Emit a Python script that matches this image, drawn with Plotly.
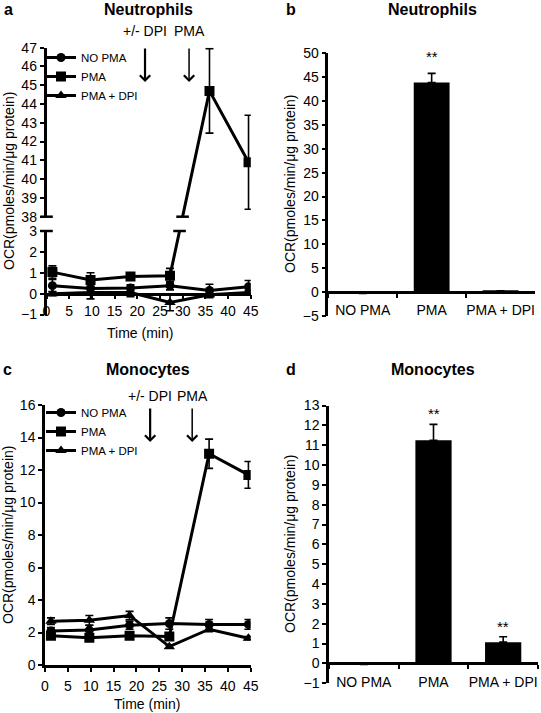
import plotly.graph_objects as go

# ---------------- data ----------------
time_min = [1.3, 9.7, 18.5, 27.2, 35.9, 44.5]
series_names = ["NO PMA", "PMA", "PMA + DPI"]

# Panel a (Neutrophils, kinetic)
neut_no_pma = [0.38, 0.25, 0.27, 0.38, 0.15, 0.33]
neut_no_pma_err = [0.3, 0.2, 0.15, 0.2, 0.3, 0.3]
neut_pma = [1.03, 0.65, 0.82, 0.86, 44.7, 40.9]
neut_pma_err = [0.3, 0.35, 0.15, 0.35, 2.25, 2.5]
neut_pma_dpi = [0.0, 0.05, 0.05, -0.42, -0.05, 0.05]
neut_pma_dpi_err = [0.1, 0.3, 0.2, 0.4, 0.15, 0.1]

# Panel c (Monocytes, kinetic)
mono_no_pma = [2.1, 2.15, 2.45, 2.55, 2.5, 2.5]
mono_no_pma_err = [0.2, 0.3, 0.25, 0.35, 0.3, 0.3]
mono_pma = [1.8, 1.68, 1.8, 1.75, 13.0, 11.7]
mono_pma_err = [0.2, 0.15, 0.15, 0.15, 0.9, 0.82]
mono_pma_dpi = [2.7, 2.75, 3.05, 1.13, 2.2, 1.65]
mono_pma_dpi_err = [0.2, 0.3, 0.25, 0.1, 0.15, 0.1]

# Bar panels
categories = ["NO PMA", "PMA", "PMA + DPI"]
neut_bar = [-0.3, 43.9, 0.3]
neut_bar_err = [None, 1.9, None]
neut_sig = ["", "**", ""]
mono_bar = [-0.06, 11.25, 1.07]
mono_bar_err = [None, 0.8, 0.27]
mono_sig = ["", "**", "**"]

# injections
inj_labels = ["+/- DPI", "PMA"]
inj_times_a = [21.7, 31.4]
inj_times_c = [23.0, 32.2]

# tick settings
x_ticks = list(range(0, 46, 5))

# ---------------- geometry ----------------
W, H = 541, 713
FONT = "Liberation Sans, Arial, sans-serif"


def xdom(p0, p1):
    return [p0 / W, p1 / W]


def ydom(pb, pt):
    return [1 - pb / H, 1 - pt / H]


def py(p):
    return 1 - p / H


A_X = xdom(46.5, 250.8)
A_LOW = ydom(314.5, 231)
A_UP = ydom(216.7, 47.7)
LOW_R = [-1, 3]
UP_R = [38, 47]
B_X = xdom(328.3, 535)
B_Y = ydom(316, 53.3)
C_X = xdom(45, 250.7)
C_Y = ydom(665, 405)
D_X = xdom(329, 538)
D_Y = ydom(683.2, 405.5)


def paper_of(v):
    if v > (LOW_R[1] + UP_R[0]) / 2:
        return A_UP[0] + (v - UP_R[0]) / (UP_R[1] - UP_R[0]) * (A_UP[1] - A_UP[0])
    return A_LOW[0] + (v - LOW_R[0]) / (LOW_R[1] - LOW_R[0]) * (A_LOW[1] - A_LOW[0])


def to_low(p):
    return LOW_R[0] + (p - A_LOW[0]) / (A_LOW[1] - A_LOW[0]) * (LOW_R[1] - LOW_R[0])


def to_up(p):
    return UP_R[0] + (p - A_UP[0]) / (A_UP[1] - A_UP[0]) * (UP_R[1] - UP_R[0])


def in_low(v):
    return LOW_R[0] <= v <= LOW_R[1]


def in_up(v):
    return UP_R[0] <= v <= UP_R[1]


symbols = ["circle", "square", "triangle-up"]
msizes = [9, 10, 10]
LW = 3
brk_marker = dict(symbol="line-ew-open", size=9, color="black", line=dict(width=2.5, color="black"))

fig = go.Figure()

# ---------------- panel a ----------------
neut_series = [(neut_no_pma, neut_no_pma_err), (neut_pma, neut_pma_err),
               (neut_pma_dpi, neut_pma_dpi_err)]
for i, (vals, errs) in enumerate(neut_series):
    y_low = [to_low(paper_of(v)) for v in vals]
    e_low = [e if in_low(v) else None for v, e in zip(vals, errs)]
    fig.add_trace(go.Scatter(
        x=time_min, y=y_low, mode="lines+markers", name=series_names[i],
        line=dict(color="black", width=LW),
        marker=dict(symbol=symbols[i], size=msizes[i], color="black"),
        error_y=dict(type="data", array=e_low, color="black", thickness=1.6, width=4),
        xaxis="x", yaxis="y", legend="legend"))
    if any(in_up(v) for v in vals):
        y_up = [to_up(paper_of(v)) for v in vals]
        e_up = [e if in_up(v) else None for v, e in zip(vals, errs)]
        fig.add_trace(go.Scatter(
            x=time_min, y=y_up, mode="lines+markers", showlegend=False,
            line=dict(color="black", width=LW),
            marker=dict(symbol=symbols[i], size=msizes[i], color="black"),
            error_y=dict(type="data", array=e_up, color="black", thickness=1.6, width=4),
            xaxis="x2", yaxis="y2"))
        # break marks where the line crosses the axis gap
        for k in range(len(vals) - 1):
            if in_low(vals[k]) and in_up(vals[k + 1]):
                p0, p1 = paper_of(vals[k]), paper_of(vals[k + 1])
                t_lo = (A_LOW[1] - p0) / (p1 - p0)
                t_up = (A_UP[0] - p0) / (p1 - p0)
                xl = time_min[k] + t_lo * (time_min[k + 1] - time_min[k])
                xu = time_min[k] + t_up * (time_min[k + 1] - time_min[k])
                fig.add_trace(go.Scatter(
                    x=[xl, 0], y=[LOW_R[1], LOW_R[1]], mode="markers", showlegend=False,
                    cliponaxis=False, hoverinfo="skip", marker=brk_marker,
                    xaxis="x", yaxis="y"))
                fig.add_trace(go.Scatter(
                    x=[xu, 0], y=[UP_R[0], UP_R[0]], mode="markers", showlegend=False,
                    cliponaxis=False, hoverinfo="skip", marker=brk_marker,
                    xaxis="x2", yaxis="y2"))

# ---------------- panel c ----------------
mono_series = [(mono_no_pma, mono_no_pma_err), (mono_pma, mono_pma_err),
               (mono_pma_dpi, mono_pma_dpi_err)]
for i, (vals, errs) in enumerate(mono_series):
    fig.add_trace(go.Scatter(
        x=time_min, y=vals, mode="lines+markers", name=series_names[i],
        line=dict(color="black", width=LW),
        marker=dict(symbol=symbols[i], size=msizes[i], color="black"),
        error_y=dict(type="data", array=errs, color="black", thickness=1.6, width=4),
        xaxis="x4", yaxis="y4", legend="legend2"))

# ---------------- bars ----------------
for vals, errs, xa, ya in [(neut_bar, neut_bar_err, "x3", "y3"), (mono_bar, mono_bar_err, "x5", "y5")]:
    fig.add_trace(go.Bar(
        x=categories, y=vals, width=0.52, marker=dict(color="black", line=dict(width=0)),
        error_y=dict(type="data", symmetric=False, array=errs, arrayminus=[None] * len(errs),
                     color="black", thickness=1.6, width=4),
        showlegend=False, xaxis=xa, yaxis=ya))

annotations = []
for vals, errs, sig, xa, ya, shift in [(neut_bar, neut_bar_err, neut_sig, "x3", "y3", 6),
                                       (mono_bar, mono_bar_err, mono_sig, "x5", "y5", 0)]:
    for c, v, e, s in zip(categories, vals, errs, sig):
        if s:
            annotations.append(dict(x=c, y=v + (e or 0), xref=xa, yref=ya, text=s,
                                    showarrow=False, xanchor="center", yanchor="bottom",
                                    yshift=shift, font=dict(size=15)))

# ---------------- axes ----------------
ax_style = dict(showline=True, linecolor="black", linewidth=2.5, ticks="outside", ticklen=4,
                tickwidth=2, tickcolor="black", showgrid=False, zeroline=False,
                tickfont=dict(size=14, color="black"), automargin=False)

fig.update_layout(
    xaxis=dict(domain=A_X, range=[0, 45], anchor="free",
               position=paper_of(0), tickvals=x_ticks, **ax_style),
    yaxis=dict(domain=A_LOW, range=LOW_R, dtick=1, anchor="x", **ax_style),
    xaxis2=dict(domain=A_X, range=[0, 45], anchor="y2", visible=False),
    yaxis2=dict(domain=A_UP, range=UP_R, dtick=1, anchor="x2", **ax_style),
    xaxis3=dict(domain=B_X, type="category", range=[-0.5, 2.5], anchor="free",
                position=B_Y[0] + 5 / 55 * (B_Y[1] - B_Y[0]), tickson="boundaries",
                tickangle=0, ticklabelstandoff=4, **ax_style),
    yaxis3=dict(domain=B_Y, range=[-5, 50], dtick=5, anchor="x3", **ax_style),
    xaxis4=dict(domain=C_X, range=[0, 45], anchor="y4", tickvals=x_ticks,
                ticklabelstandoff=2, **ax_style),
    yaxis4=dict(domain=C_Y, range=[0, 16], dtick=2, anchor="x4", **ax_style),
    xaxis5=dict(domain=D_X, type="category", range=[-0.5, 2.5], anchor="free",
                position=D_Y[0] + 1 / 14 * (D_Y[1] - D_Y[0]), tickson="boundaries",
                tickangle=0, ticklabelstandoff=5, **ax_style),
    yaxis5=dict(domain=D_Y, range=[-1, 13], dtick=1, anchor="x5", **ax_style),
)

# ---------------- text ----------------
txt = dict(xref="paper", yref="paper", showarrow=False, xanchor="center", yanchor="middle")
ytitle = "OCR(pmoles/min/μg protein)"
for xp, yp in [(9, 181), (290, 184), (8, 535), (290, 544)]:
    annotations.append(dict(x=xp / W, y=py(yp), text=ytitle, textangle=-90,
                            font=dict(size=14), **txt))
for xp, yp in [(140, 333), (147, 704)]:
    annotations.append(dict(x=xp / W, y=py(yp), text="Time (min)", font=dict(size=14), **txt))
for xp, yp, t in [(148, 9, "Neutrophils"), (432, 9, "Neutrophils"),
                  (148, 369, "Monocytes"), (433, 369, "Monocytes"),
                  (8, 9, "a"), (291, 9, "b"), (7, 369, "c"), (291, 369, "d")]:
    annotations.append(dict(x=xp / W, y=py(yp), text="<b>%s</b>" % t, font=dict(size=16), **txt))

arrow_w = [2.2, 1.5]
for times, xa, tip, txt_y in [(inj_times_a, "x2", 82, 31), (inj_times_c, "x4", 442, 396)]:
    for j, t in enumerate(times):
        annotations.append(dict(x=t, y=py(tip), xref=xa, yref="paper", text="", showarrow=True,
                                ax=0, ay=-35, arrowhead=4, arrowsize=2.0 / arrow_w[j],
                                arrowwidth=arrow_w[j], arrowcolor="black", standoff=0))
        annotations.append(dict(x=t, y=py(txt_y), xref=xa, yref="paper", text=inj_labels[j],
                                showarrow=False, xanchor="center", yanchor="middle",
                                font=dict(size=14)))

leg_style = dict(bgcolor="rgba(0,0,0,0)", borderwidth=0, font=dict(size=11.5, color="black"),
                 xanchor="left", yanchor="top", tracegroupgap=0)
fig.update_layout(
    width=W, height=H, margin=dict(l=0, r=0, t=0, b=0, pad=0, autoexpand=False),
    paper_bgcolor="white", plot_bgcolor="white",
    font=dict(family=FONT, size=14, color="black"),
    barmode="overlay",
    annotations=annotations,
    legend=dict(x=41 / W, y=py(43), **leg_style),
    legend2=dict(x=41 / W, y=py(398), **leg_style),
)

fig.write_html("out.html", config={"displayModeBar": False},
               post_script="document.body.style.margin='0px';")
